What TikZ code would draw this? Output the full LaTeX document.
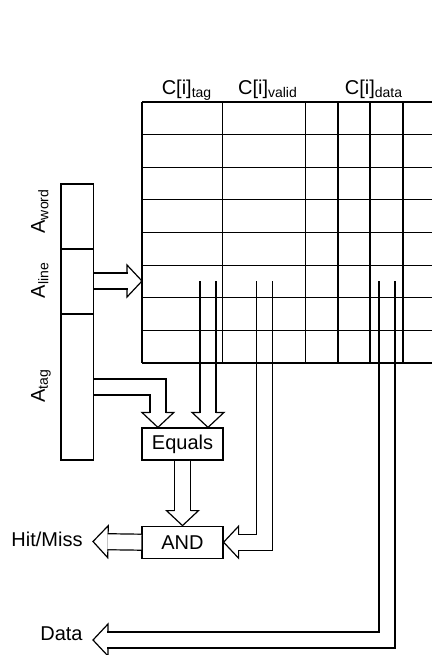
\documentclass[tikz,border=0pt]{standalone}
\usepackage{fontspec}
\setmainfont{Liberation Sans}
\usetikzlibrary{positioning, calc, decorations.markings}
\tikzset{
  rule/.style   = {line width=0.6pt},
  field/.style  = {rectangle, draw, line width=0.6pt, minimum width=16.35pt, inner sep=0pt},
  unit/.style   = {rectangle, draw, line width=0.6pt, minimum width=40.5pt,
                   minimum height=16pt, inner sep=0pt},
  alab/.style   = {rotate=90, anchor=base, inner sep=0pt},
  clab/.style   = {anchor=base, inner sep=0pt},
  olab/.style   = {inner sep=0pt},
  bus/.style    = {line width=0.6pt, double, double distance=7.4pt, shorten >=7.2pt,
                   postaction={decorate, decoration={markings, mark=at position 1 with
                     {\draw[line width=0.6pt, shorten >=0pt, line join=miter]
                       (-7.5pt,4pt) -- (-7.5pt,8pt) -- (0,0) -- (-7.5pt,-8pt) -- (-7.5pt,-4pt);}}}},
}
\begin{document}
\begin{tikzpicture}[x=0.5pt, y=-0.5pt]
  \useasboundingbox (0,0) rectangle (432,655);
  % ---- address register
  \node[field, minimum height=138pt] (reg) at (77.35,322) {};
  \coordinate (wl) at (0,249);
  \coordinate (lt) at (0,314);
  \draw[rule] (reg.west |- wl) -- (reg.east |- wl);
  \draw[rule] (reg.west |- lt) -- (reg.east |- lt);
  \node[alab] at (45,211) {A\textsubscript{word}};
  \node[alab] at (45,280) {A\textsubscript{line}};
  \node[alab] at (45,386) {A\textsubscript{tag}};
  % ---- comparator and gate
  \node[unit] (eq) at (182.5,444) {Equals};
  \node[unit, below=32.5pt of eq] (andg) {AND};
  % ---- read points and outputs
  \coordinate (g) at (142,102);
  \coordinate (linein) at (0,281);
  \coordinate (tagin) at (0,387);
  \coordinate (tagrd) at (208,281);
  \coordinate (valrd) at (264.7,281);
  \coordinate (datrd) at (387,281);
  \coordinate (hmtip) at (93,541.5);
  \coordinate (dattip) at (93,640);
  \node[olab, left=5pt of hmtip, yshift=1pt] (hm) {Hit/Miss};
  \node[olab, left=5pt of dattip, yshift=3pt] (dat) {Data};
  % ---- buses
  \draw[bus] (reg.east |- linein) -- (g |- linein);
  \draw[bus] (reg.east |- tagin) -| ($(eq.north west)+(16.5,0)$);
  \draw[bus] (tagrd) -- (tagrd |- eq.north);
  \draw[bus] (eq.south) -- (andg.north);
  \draw[bus] (andg.west) -- (hmtip);
  \draw[bus] (valrd) |- (andg.east);
  \draw[bus] (datrd) |- (dattip);
  % ---- cache array, drawn last so its rules run through the buses
  \foreach \r in {0,...,8}
    \draw[rule] ($(g)+(0,\r*32.625)$) -- ++(290,0);
  \foreach \c in {0,80.7,163.7,196,228,261}
    \draw[rule] ($(g)+(\c,0)$) -- ++(0,261);
  \node[clab] (ctag) at (187,94) {C[i]\textsubscript{tag}};
  \node[clab] (cval) at (268,94) {C[i]\textsubscript{valid}};
  \node[clab] (cdat) at (374,94) {C[i]\textsubscript{data}};
\end{tikzpicture}
\end{document}
